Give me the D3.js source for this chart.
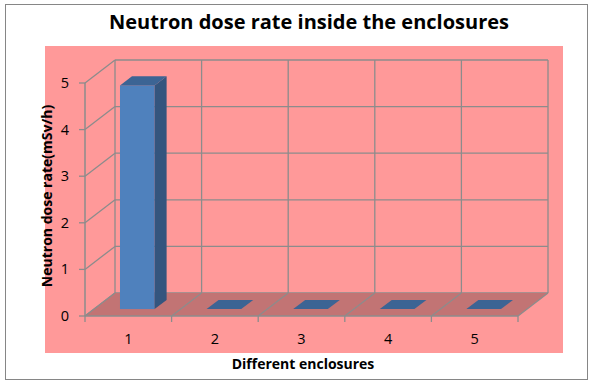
<!DOCTYPE html>
<html>
<head>
<meta charset="utf-8">
<script src="https://cdn.jsdelivr.net/npm/d3@7"></script>
<style>
  body { margin: 0; background: #fff; }
  text { font-family: "Open Sans", Lato, sans-serif; fill: #000; }
</style>
</head>
<body>
<script>
// chart data
var categories = ["1", "2", "3", "4", "5"];
var doseRates = [4.8, 0, 0, 0, 0];
var yTicks = [0, 1, 2, 3, 4, 5];
var chartTitle = "Neutron dose rate inside the enclosures";
var xTitle = "Different enclosures";
var yTitle = "Neutron dose rate(mSv/h)";

var w = 593;
var h = 385;

// 3d depth offset of the back wall
var depthX = 30;
var depthY = -23;
var gridColor = "#8c8c8c";

function proj(x, y, d) {
  return [x + d * depthX, y + d * depthY];
}

var svg = d3.select("body")
    .append("svg")
    .attr("width", w)
    .attr("height", h);

svg.append("rect")
    .attr("x", 5.5).attr("y", 4.5)
    .attr("width", 582).attr("height", 375)
    .attr("fill", "#fff")
    .attr("stroke", "#868686");

svg.append("rect")
    .attr("x", 45).attr("y", 46)
    .attr("width", 518).attr("height", 307)
    .attr("fill", "#ff9999");

var xScale = d3.scaleBand()
    .domain(categories)
    .range([85, 518])
    .padding(0);

var yScale = d3.scaleLinear()
    .domain([0, 5])
    .range([316, 83]);

var step = xScale.step();
var bounds = d3.range(categories.length + 1).map(function(i) { return 85 + i * step; });

// side wall + back wall gridlines
yTicks.forEach(function(t) {
  var a = proj(85, yScale(t), 0);
  var b = proj(85, yScale(t), 1);
  var c = proj(518, yScale(t), 1);
  svg.append("line")
      .attr("x1", a[0]).attr("y1", a[1])
      .attr("x2", b[0]).attr("y2", b[1])
      .attr("stroke", gridColor).attr("stroke-width", 1.3);
  svg.append("line")
      .attr("x1", b[0]).attr("y1", b[1])
      .attr("x2", c[0]).attr("y2", c[1])
      .attr("stroke", gridColor).attr("stroke-width", 1.3);
});

bounds.forEach(function(x) {
  var top = proj(x, yScale(5), 1);
  var bot = proj(x, yScale(0), 1);
  svg.append("line")
      .attr("x1", top[0]).attr("y1", top[1])
      .attr("x2", bot[0]).attr("y2", bot[1])
      .attr("stroke", gridColor).attr("stroke-width", 1.3);
});

// floor
var y0 = yScale(0);
var floorPts = [proj(85, y0, 0), proj(518, y0, 0), proj(518, y0, 1), proj(85, y0, 1)];
svg.append("polygon")
    .attr("points", floorPts.map(function(p) { return p.join(","); }).join(" "))
    .attr("fill", "#c27474");

bounds.forEach(function(x) {
  var a = proj(x, y0, 0);
  var b = proj(x, y0, 1);
  svg.append("line")
      .attr("x1", a[0]).attr("y1", a[1])
      .attr("x2", b[0]).attr("y2", b[1])
      .attr("stroke", gridColor).attr("stroke-width", 1.3);
  svg.append("line")
      .attr("x1", x).attr("y1", y0)
      .attr("x2", x).attr("y2", y0 + 6)
      .attr("stroke", gridColor).attr("stroke-width", 1.3);
});

svg.append("line")
    .attr("x1", 85).attr("y1", y0)
    .attr("x2", 518).attr("y2", y0)
    .attr("stroke", gridColor).attr("stroke-width", 1.5);

svg.append("line")
    .attr("x1", 85).attr("y1", yScale(5))
    .attr("x2", 85).attr("y2", y0)
    .attr("stroke", gridColor).attr("stroke-width", 1.5);

// bars
var d0 = 0.3, d1 = 0.7;
categories.forEach(function(c, i) {
  var bw = xScale.bandwidth();
  var x0 = xScale(c) + bw * 0.3;
  var x1 = x0 + bw * 0.4;
  var yt = yScale(doseRates[i]);
  function pts(arr) { return arr.map(function(p) { return p.join(","); }).join(" "); }
  var g = svg.append("g");
  if (doseRates[i] > 0) {
    var f0 = proj(x0, yt, d0);
    var f1 = proj(x1, y0, d0);
    g.append("rect")
        .attr("x", f0[0]).attr("y", f0[1])
        .attr("width", f1[0] - f0[0]).attr("height", f1[1] - f0[1])
        .attr("fill", "#4f81bd");
    g.append("polygon")
        .attr("points", pts([proj(x1, yt, d0), proj(x1, yt, d1), proj(x1, y0, d1), proj(x1, y0, d0)]))
        .attr("fill", "#34557e");
  }
  g.append("polygon")
      .attr("points", pts([proj(x0, yt, d0), proj(x1, yt, d0), proj(x1, yt, d1), proj(x0, yt, d1)]))
      .attr("fill", "#3c6494");
});

// y tick marks and labels
yTicks.forEach(function(t) {
  svg.append("line")
      .attr("x1", 79).attr("y1", yScale(t))
      .attr("x2", 85).attr("y2", yScale(t))
      .attr("stroke", gridColor).attr("stroke-width", 1.3);
  svg.append("text")
      .attr("x", 69)
      .attr("y", yScale(t) + 5)
      .attr("text-anchor", "end")
      .style("font-size", "14.5px")
      .text(t);
});

categories.forEach(function(c) {
  svg.append("text")
      .attr("x", xScale(c) + xScale.bandwidth() / 2)
      .attr("y", 344)
      .attr("text-anchor", "middle")
      .style("font-size", "14.5px")
      .text(c);
});

svg.append("text")
    .attr("x", 309).attr("y", 29)
    .attr("text-anchor", "middle")
    .style("font-size", "20px")
    .style("font-weight", "bold")
    .text(chartTitle);

svg.append("text")
    .attr("x", 303).attr("y", 369)
    .attr("text-anchor", "middle")
    .style("font-size", "14px")
    .style("font-weight", "bold")
    .text(xTitle);

svg.append("text")
    .attr("transform", "translate(52,196) rotate(-90)")
    .attr("text-anchor", "middle")
    .style("font-size", "14px")
    .style("font-weight", "bold")
    .text(yTitle);
</script>
</body>
</html>
